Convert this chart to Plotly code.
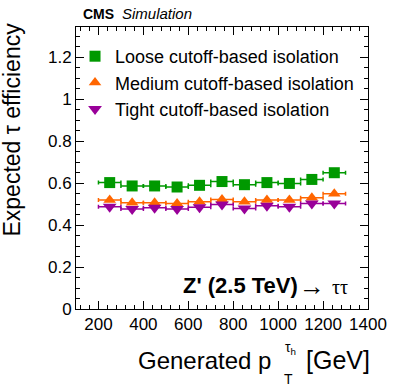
import plotly.graph_objects as go

# ---- data ----
pt_centers = [250, 350, 450, 550, 650, 750, 850, 950, 1050, 1150, 1250]
pt_halfwidth = [50] * 11
eff_loose = [0.602, 0.586, 0.586, 0.581, 0.589, 0.607, 0.592, 0.602, 0.598, 0.617, 0.649]
eff_medium = [0.519, 0.506, 0.506, 0.503, 0.511, 0.522, 0.511, 0.519, 0.519, 0.530, 0.549]
eff_tight = [0.487, 0.476, 0.482, 0.476, 0.484, 0.498, 0.479, 0.492, 0.487, 0.503, 0.503]
eff_err = [0.004] * 11

labels = ["Loose cutoff-based isolation", "Medium cutoff-based isolation", "Tight cutoff-based isolation"]
colors = ["#009900", "#ff6600", "#990099"]
symbols = ["square", "triangle-up", "triangle-down"]
sizes = [11, 11, 12]

FONT = "Liberation Sans, Arial, Helvetica, sans-serif"
SERIF = "Liberation Serif, Times New Roman, serif"

fig = go.Figure()
for vals, lab, col, sym, sz in zip([eff_loose, eff_medium, eff_tight], labels, colors, symbols, sizes):
    fig.add_trace(go.Scatter(
        x=pt_centers, y=vals, mode="markers", name=lab,
        marker=dict(symbol=sym, size=sz, color=col, line=dict(width=0)),
        error_x=dict(type="data", array=pt_halfwidth, color=col, thickness=1.5, width=2),
        error_y=dict(type="data", array=eff_err, color=col, thickness=1.5, width=0),
    ))

W, H = 399, 387
L, R, T, B = 76, 24, 27, 78
pw, ph = W - L - R, H - T - B

def px(x):
    return (x - L) / pw

def py(y):
    return (H - B - y) / ph

axis_common = dict(
    showline=True, linecolor="black", linewidth=1, mirror="allticks",
    ticks="inside", ticklen=8, tickwidth=1, tickcolor="black",
    showgrid=False, zeroline=False,
    tickfont=dict(family=FONT, size=17, color="black"),
)

fig.update_layout(
    width=W, height=H,
    margin=dict(l=L, r=R, t=T, b=B),
    plot_bgcolor="white", paper_bgcolor="white",
    font=dict(family=FONT, color="black"),
    showlegend=True,
    legend=dict(x=px(75), y=py(38), xanchor="left", yanchor="top",
                font=dict(family=FONT, size=18, color="black"),
                bgcolor="rgba(0,0,0,0)", borderwidth=0, itemwidth=30,
                tracegroupgap=0),
    xaxis=dict(range=[100, 1400], tick0=200, dtick=200,
               minor=dict(dtick=40, tick0=0, ticks="inside", ticklen=4, tickcolor="black", showgrid=False),
               **axis_common),
    yaxis=dict(range=[0, 1.343], tick0=0, dtick=0.2,
               minor=dict(dtick=0.05, tick0=0, ticks="inside", ticklen=4, tickcolor="black", showgrid=False),
               tickformat="~g",
               **axis_common),
)

ann = []
ann.append(dict(text="<b>CMS</b>", x=px(81), y=py(14), xanchor="left", yanchor="middle",
                font=dict(family=FONT, size=14)))
ann.append(dict(text="<i>Simulation</i>", x=px(121), y=py(14), xanchor="left", yanchor="middle",
                font=dict(family=FONT, size=15)))
ann.append(dict(text="<b>Z' (2.5 TeV)</b>", x=px(305), y=py(285), xanchor="right", yanchor="middle",
                font=dict(family=FONT, size=22)))
ann.append(dict(text="→", x=px(318), y=py(286), xanchor="center", yanchor="middle",
                font=dict(family=FONT, size=26)))
ann.append(dict(text="ττ", x=px(336), y=py(287), xanchor="left", yanchor="middle",
                font=dict(family=SERIF, size=20)))
# y title
ann.append(dict(text="Expected τ efficiency", textangle=-90, x=px(10), y=py(130),
                xanchor="center", yanchor="middle", font=dict(family=FONT, size=23)))
# x title pieces
ann.append(dict(text="Generated p", x=px(278), y=py(360), xanchor="right", yanchor="middle",
                font=dict(family=FONT, size=24)))
ann.append(dict(text="T", x=px(287), y=py(379), xanchor="left", yanchor="middle",
                font=dict(family=FONT, size=14)))
ann.append(dict(text="τ<sub>h</sub>", x=px(288), y=py(348), xanchor="left", yanchor="middle",
                font=dict(family=FONT, size=14)))
ann.append(dict(text="[GeV]", x=px(309), y=py(360), xanchor="left", yanchor="middle",
                font=dict(family=FONT, size=25)))
for a in ann:
    a.update(xref="paper", yref="paper", showarrow=False)
fig.update_layout(annotations=ann)

fig.write_html("out.html", config={"displayModeBar": False},
               post_script="document.body.style.margin='0px';")
